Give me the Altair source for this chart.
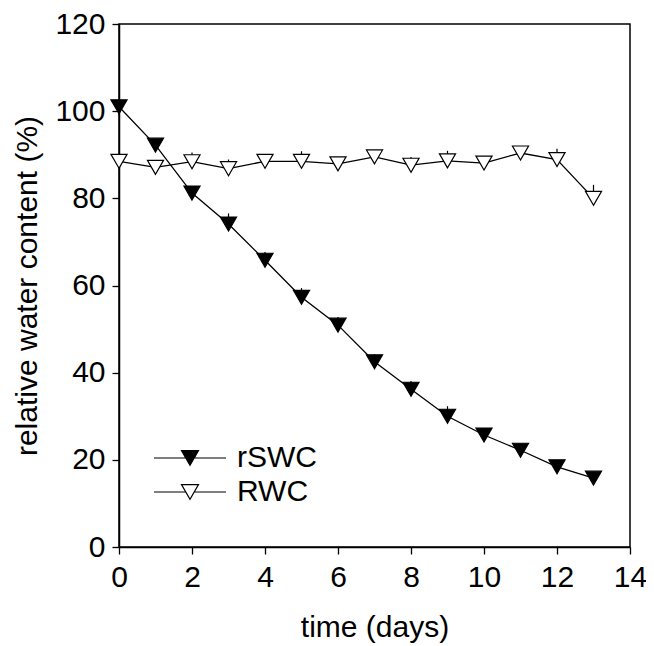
import altair as alt
import pandas as pd

days = list(range(14))
rswc = [101, 92.2, 81.2, 74.1, 65.8, 57.3, 50.9, 42.5, 36.2, 30.0, 25.7, 22.2, 18.4, 15.8]
rswc_err = [0, 0, 0, 2.45, 1.9, 2.1, 1.9, 1.7, 1.9, 2.3, 0, 0, 0, 0]
rwc = [88.5, 87.1, 88.4, 86.8, 88.5, 88.5, 87.9, 89.5, 87.6, 88.6, 88.1, 90.4, 88.9, 80.0]
rwc_err = [0, 0, 2.1, 2.1, 0, 2.3, 0, 0, 1.9, 2.3, 0, 0, 2.5, 3.1]
series_names = ["rSWC", "RWC"]
x_ticks = [0, 2, 4, 6, 8, 10, 12, 14]
y_ticks = [0, 20, 40, 60, 80, 100, 120]

rows = []
for name, vals, errs in [("rSWC", rswc, rswc_err), ("RWC", rwc, rwc_err)]:
    for d, v, e in zip(days, vals, errs):
        rows.append({"day": d, "value": v, "top": v + e, "series": name})
df = pd.DataFrame(rows)

FONT = "Liberation Sans"

x = alt.X("day:Q", title="time (days)",
          scale=alt.Scale(domain=[0, 14], nice=False, zero=False),
          axis=alt.Axis(values=x_ticks, titlePadding=20, labelPadding=8,
                        labelFlush=False, labelOverlap=False))
y = alt.Y("value:Q", title="relative water content (%)",
          scale=alt.Scale(domain=[0, 120], nice=False),
          axis=alt.Axis(values=y_ticks, titlePadding=12, labelPadding=7,
                        labelFlush=False, labelOverlap=False))

base = alt.Chart(df)

err = base.mark_rule(color="black", strokeWidth=1.2).encode(
    x=x, y=y, y2="top:Q", detail="series:N")

line = base.mark_line(color="black", strokeWidth=1.3).encode(
    x=x, y=y, detail="series:N")

legend_path = "M-2,0H-0.236M0.236,0H2M-0.472,-0.408L0.472,-0.408L0,0.408Z"

pts = base.mark_point(shape="triangle-down", filled=True, size=260,
                      stroke="black", strokeWidth=1.2, opacity=1).encode(
    x=x, y=y,
    fill=alt.Fill("series:N",
                  scale=alt.Scale(domain=series_names, range=["black", "white"]),
                  legend=alt.Legend(title=None, orient="none", legendX=52, legendY=415,
                                    symbolType=legend_path, symbolSize=1296,
                                    symbolStrokeColor="black", symbolStrokeWidth=1.2,
                                    labelFontSize=30, labelFont=FONT, labelColor="black",
                                    labelOffset=28, rowPadding=0, padding=0)),
)

chart = (err + line + pts).properties(
    width=511, height=523,
    autosize=alt.AutoSizeParams(type="none"),
    padding={"left": 111, "top": 16, "right": 16, "bottom": 100},
).configure_view(
    stroke="black", strokeWidth=1.5
).configure_axis(
    grid=False, tickSize=7, tickColor="black", tickWidth=1.3,
    domainColor="black", domainWidth=1.5,
    labelFont=FONT, labelFontSize=30, labelColor="black",
    titleFont=FONT, titleFontSize=30, titleFontWeight="normal", titleColor="black",
)

chart.save("out.html", embed_options={"renderer": "svg", "actions": False})
